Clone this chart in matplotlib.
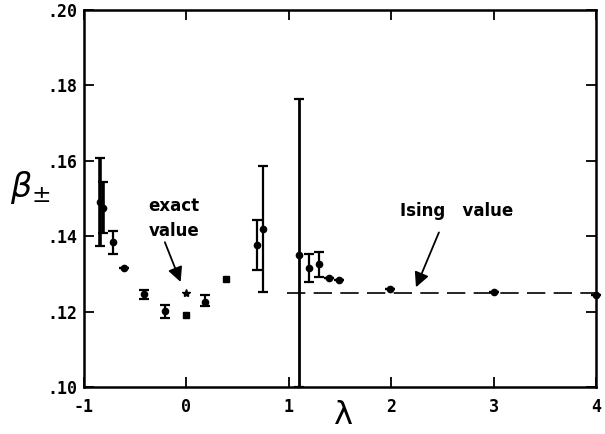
import numpy as np
import matplotlib
matplotlib.use("Agg")
import matplotlib.pyplot as plt

# dados
lam = [-0.844, -0.812, -0.72, -0.61, -0.41, -0.206, 0.185, 0.687, 0.745,
       1.097, 1.197, 1.298, 1.395, 1.493, 1.99, 3.0, 4.0]
beta = [0.1492, 0.1475, 0.1384, 0.1316, 0.1247, 0.1201, 0.1227, 0.1377, 0.1419,
        0.1350, 0.1316, 0.1326, 0.1289, 0.1283, 0.1261, 0.1251, 0.1245]
beta_lo = [0.1373, 0.1408, 0.1353, 0.1316, 0.1234, 0.1183, 0.1214, 0.1311, 0.1251,
           0.1000, 0.1280, 0.1293, 0.1289, 0.1283, 0.1261, 0.1251, 0.1245]
beta_hi = [0.1607, 0.1543, 0.1413, 0.1316, 0.1258, 0.1217, 0.1245, 0.1444, 0.1587,
           0.1765, 0.1353, 0.1357, 0.1289, 0.1283, 0.1261, 0.1251, 0.1245]
lw_bar = [2.6, 2.6, 1.6, 1.6, 1.6, 1.6, 1.6, 1.6, 1.6, 2.0, 1.6, 1.6, 1.6, 1.6, 1.6, 1.6, 1.6]

lam_sq = [0.0, 0.387]
beta_sq = [0.1190, 0.1287]

lam_exact = [0.0]
beta_exact = [0.125]

ising = 0.125
ising_range = [0.98, 4.0]

xticks = [-1, 0, 1, 2, 3, 4]
yticks = [0.10, 0.12, 0.14, 0.16, 0.18, 0.20]
ylabels = ['.10', '.12', '.14', '.16', '.18', '.20']

fig = plt.figure(figsize=(6.05, 4.34), dpi=100)
ax = fig.add_axes([0.1388, 0.108, 0.8462, 0.869])

## pontos com barras de erro
for i in range(len(lam)):
  lo = beta[i] - beta_lo[i]
  hi = beta_hi[i] - beta[i]
  ax.errorbar(lam[i], beta[i], yerr=[[lo], [hi]], fmt='o', color='k', ms=4.5,
              elinewidth=lw_bar[i], capsize=3.5, capthick=1.6, clip_on=False, zorder=3)

ax.plot(lam_sq, beta_sq, 's', color='k', ms=4.5, zorder=3)
ax.plot(lam_exact, beta_exact, '*', color='k', ms=6, zorder=3)

## valor de Ising
ax.plot(ising_range, [ising, ising], color='k', lw=1.2, dashes=(11, 5))

ax.set_xlim(-1, 4)
ax.set_ylim(0.10, 0.20)
ax.set_xticks(xticks)
ax.set_xticklabels([str(t) for t in xticks])
ax.set_yticks(yticks)
ax.set_yticklabels(ylabels)
ax.tick_params(direction='in', length=7, width=1.3, top=True, right=True)
ax.tick_params(axis='y', pad=5)
ax.tick_params(axis='x', pad=8)
for lab in ax.get_xticklabels() + ax.get_yticklabels():
  lab.set_family('DejaVu Sans Mono')
  lab.set_fontweight('bold')
  lab.set_fontsize(12)
for s in ax.spines.values():
  s.set_linewidth(1.8)

ax.set_ylabel(r'$\beta_{\pm}$', rotation=0, fontsize=24)
ax.yaxis.set_label_coords(-0.105, 0.48)
ax.text(0.506, -0.116, r'$\mathrm{\lambda}$', transform=ax.transAxes, fontsize=23,
        ha='center', va='bottom')

## anotacoes
ax.text(-0.12, 0.1447, 'exact\nvalue', fontsize=12, fontweight='bold',
        ha='center', va='center', linespacing=1.5)
ax.annotate('', xy=(-0.046, 0.1272), xytext=(-0.22, 0.1391),
            arrowprops=dict(arrowstyle='-|>', mutation_scale=22, lw=1.3, color='k'))
ax.text(2.64, 0.1467, 'Ising   value', fontsize=12, fontweight='bold',
        ha='center', va='center')
ax.annotate('', xy=(2.232, 0.1258), xytext=(2.477, 0.1417),
            arrowprops=dict(arrowstyle='-|>', mutation_scale=22, lw=1.3, color='k'))

fig.savefig('out.png', dpi=100)
